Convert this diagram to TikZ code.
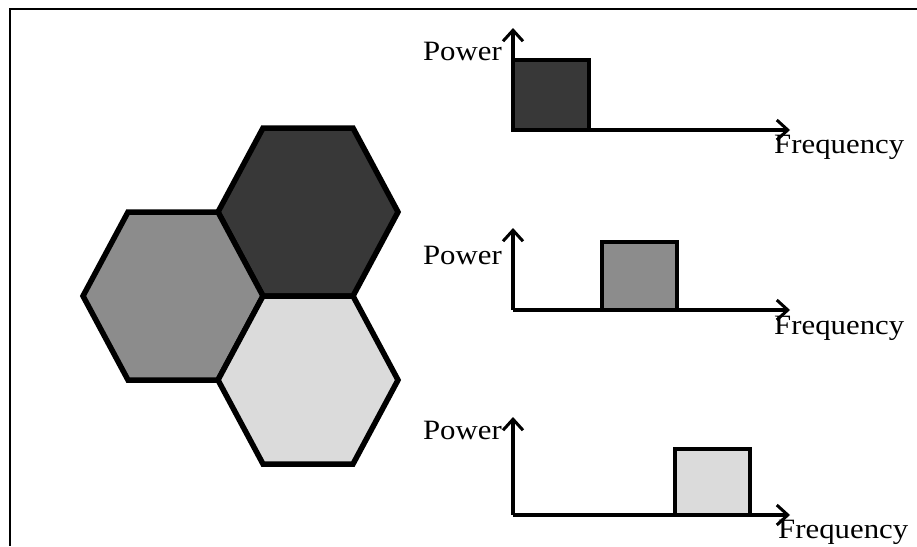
\documentclass[tikz,border=0pt]{standalone}
\usepackage{fontspec}
\setmainfont{Liberation Serif}
\usetikzlibrary{arrows.meta,calc}
\begin{document}
\begin{tikzpicture}[x=1pt,y=-1pt,
  cell/.style={draw=black,line width=5.5pt,line join=miter},
  axis/.style={line width=3.5pt,-{Straight Barb[length=11pt,width=20pt,line width=3pt]}},
  band/.style={draw=black,line width=4.5pt},
  lbl/.style={inner sep=0pt,font=\fontsize{28}{31}\selectfont,xscale=1.1}]
\useasboundingbox (0,0) rectangle (917,546);
\fill[white] (0,0) rectangle (917,546);
% outer frame (top and left edges)
\draw[line width=1.6pt] (917,9) -- (10,9) -- (10,546);

% hexagonal cells
\def\R{90}\def\H{84}
\foreach \cx/\cy/\g/\nm in {308/212/22/dark,173/296/55/mid,308/380/86/light}{
  \coordinate (\nm) at (\cx,\cy);
  \draw[cell,fill=black!\the\numexpr100-\g\relax]
    ($(\nm)+(\R,0)$) -- ++(-\R/2,\H) -- ++(-\R,0) -- ++(-\R/2,-\H)
    -- ++(\R/2,-\H) -- ++(\R,0) -- cycle;
}

% spectrum 1
\coordinate (o1) at (513,130);
\coordinate (p1) at (513,28);
\coordinate (f1) at (790,130);
\draw[band,fill=black!78] (513,60) rectangle (589,130);
\draw[axis] (o1) -- (p1);
\draw[axis] (o1) -- (f1);
\node[lbl,anchor=base east] (pw1) at (502,60) {Power};
\node[lbl,anchor=base west] (fr1) at (774,153) {Frequency};

% spectrum 2
\coordinate (o2) at (513,310);
\coordinate (p2) at (513,228);
\coordinate (f2) at (790,310);
\draw[band,fill=black!45] (602,242) rectangle (677,310);
\draw[axis] (o2) -- (p2);
\draw[axis] (o2) -- (f2);
\node[lbl,anchor=base east] (pw2) at (502,264) {Power};
\node[lbl,anchor=base west] (fr2) at (774,334) {Frequency};

% spectrum 3
\coordinate (o3) at (513,515);
\coordinate (p3) at (513,417);
\coordinate (f3) at (790,515);
\draw[band,fill=black!14] (675,449) rectangle (750,515);
\draw[axis] (o3) -- (p3);
\draw[axis] (o3) -- (f3);
\node[lbl,anchor=base east] (pw3) at (502,439) {Power};
\node[lbl,anchor=base west] (fr3) at (778,538) {Frequency};
\end{tikzpicture}
\end{document}
